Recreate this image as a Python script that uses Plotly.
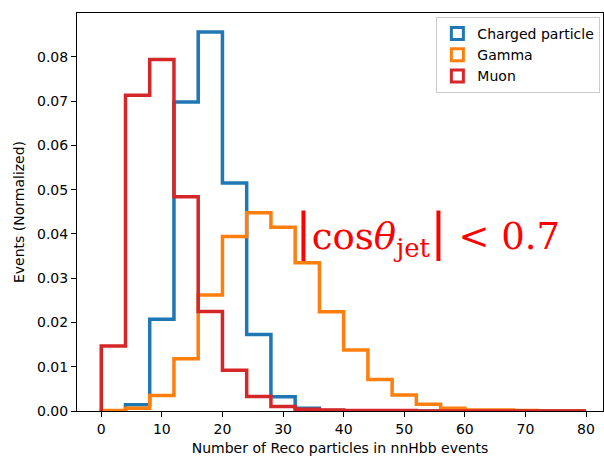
import plotly.graph_objects as go

bin_edges = list(range(0, 84, 4))
charged = [0.0, 0.0014, 0.0207, 0.0698, 0.0856, 0.0515, 0.0173, 0.0032, 0.0006, 0.0001,
           0.0, 0.0, 0.0, 0.0, 0.0, 0.0, 0.0, 0.0, 0.0, 0.0]
gamma = [0.0001, 0.0006, 0.0035, 0.0118, 0.0262, 0.0394, 0.0448, 0.0415, 0.0335, 0.0224,
         0.0138, 0.0071, 0.0036, 0.0015, 0.0006, 0.0002, 0.0002, 0.0001, 0.0, 0.0]
muon = [0.0147, 0.0713, 0.0794, 0.0484, 0.0225, 0.0092, 0.0033, 0.0010, 0.0004, 0.0002,
        0.0001, 0.0001, 0.0001, 0.0, 0.0, 0.0, 0.0, 0.0, 0.0, 0.0]
names = ["Charged particle", "Gamma", "Muon"]
colors = ["#1f77b4", "#ff7f0e", "#d62728"]

fig = go.Figure()
for name, vals, col in zip(names, [charged, gamma, muon], colors):
    xs = [bin_edges[0]] + bin_edges[:-1] + [bin_edges[-1], bin_edges[-1]]
    ys = [0] + vals + [vals[-1], 0]
    fig.add_trace(go.Scatter(x=xs, y=ys, mode="lines", line=dict(color=col, width=3.5, shape="hv"),
                             showlegend=False, legendgroup=name, hoverinfo="skip"))
for name, col in zip(names, colors):
    fig.add_trace(go.Bar(x=[None], y=[None], name=name, legendgroup=name,
                         marker=dict(color="white", line=dict(color=col, width=3))))

fig.add_annotation(x=31.6, y=0.0402, xref="x", yref="y", xanchor="left", yanchor="middle",
                   showarrow=False,
                   text="<span style='font-size:50px'>|</span>cos<i>θ</i><sub>jet</sub><span style='font-size:50px'>|</span> &lt; 0.7",
                   font=dict(family="DejaVu Serif", size=37, color="#ff0000"))

axis_common = dict(showline=True, linecolor="black", linewidth=1, mirror=True, ticks="outside",
                   ticklen=5, tickcolor="black", showgrid=False, zeroline=False,
                   tickfont=dict(family="DejaVu Sans", size=14, color="black"))
fig.update_xaxes(range=[-4, 82.8], tickvals=list(range(0, 90, 10)),
                 title=dict(text="Number of Reco particles in nnHbb events",
                            font=dict(family="DejaVu Sans", size=14, color="black"), standoff=7),
                 **axis_common)
fig.update_yaxes(range=[0, 0.0899], tickvals=[i / 100 for i in range(9)], tickformat=".2f",
                 title=dict(text="Events (Normalized)",
                            font=dict(family="DejaVu Sans", size=14, color="black"), standoff=9),
                 **axis_common)
fig.update_layout(width=604, height=457, margin=dict(l=77, r=1, t=13, b=46),
                  plot_bgcolor="white", paper_bgcolor="white",
                  legend=dict(x=0.995, y=0.99, xanchor="right", yanchor="top",
                              bgcolor="rgba(255,255,255,0.8)", bordercolor="#cccccc", borderwidth=1,
                              font=dict(family="DejaVu Sans", size=14, color="black"),
                              tracegroupgap=0, itemwidth=30))
fig.write_html("out.html")
